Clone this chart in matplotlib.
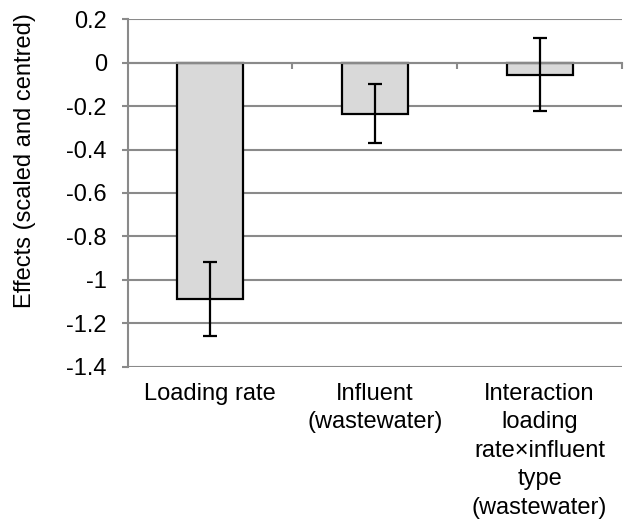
import matplotlib
matplotlib.use("Agg")
import matplotlib.pyplot as plt
from matplotlib.transforms import blended_transform_factory

plt.rcParams['font.family'] = ['Liberation Sans', 'DejaVu Sans']

categories = ["Loading rate", "Influent\n(wastewater)",
              "Interaction\nloading\nrate\u00d7influent\ntype\n(wastewater)"]
effects = [-1.09, -0.235, -0.055]
err_low = [-1.26, -0.37, -0.222]
err_high = [-0.92, -0.10, 0.113]
yticks = [0.2, 0, -0.2, -0.4, -0.6, -0.8, -1, -1.2, -1.4]
ytick_labels = ["0.2", "0", "-0.2", "-0.4", "-0.6", "-0.8", "-1", "-1.2", "-1.4"]

grid_col = '#8a8a8a'
fs = 17

fig = plt.figure(figsize=(6.34, 5.2), dpi=100)
ax = fig.add_axes([0.2014, 0.2948, 0.981 - 0.2014, 0.9629 - 0.2948])

x = list(range(len(categories)))
yerr = [[e - lo for e, lo in zip(effects, err_low)],
        [hi - e for e, hi in zip(effects, err_high)]]

ax.set_ylim(-1.4, 0.2)
ax.set_xlim(-0.5, len(categories) - 0.5)
ax.set_yticks(yticks)
ax.set_yticklabels(ytick_labels, fontsize=fs)
ax.yaxis.grid(True, color=grid_col, linewidth=1.5, zorder=0)
ax.set_axisbelow(True)

ax.bar(x, effects, width=0.4, color='#d9d9d9', edgecolor='black', linewidth=1.6, zorder=2)
ax.errorbar(x, effects, yerr=yerr, fmt='none', ecolor='black', elinewidth=1.6,
            capsize=5, capthick=1.6, zorder=3)

for s in ['top', 'right']:
    ax.spines[s].set_visible(False)
ax.spines['left'].set_color(grid_col)
ax.spines['left'].set_linewidth(1.5)
ax.spines['bottom'].set_position(('data', 0))
ax.spines['bottom'].set_color(grid_col)
ax.spines['bottom'].set_linewidth(1.5)

ax.set_xticks([i + 0.5 for i in x])
ax.set_xticklabels([])
ax.tick_params(axis='x', direction='out', length=4, width=1.5, color=grid_col)
ax.tick_params(axis='y', direction='out', length=4, width=1.5, color=grid_col, pad=11)

trans = blended_transform_factory(ax.transData, ax.transAxes)
for i, lab in zip(x, categories):
    ax.annotate(lab, xy=(i, 0), xycoords=trans, xytext=(0, -11.5),
                textcoords='offset points', ha='center', va='top',
                multialignment='center', fontsize=fs, linespacing=1.38)

fig.text(25 / 634, 1 - 161 / 520, "Effects (scaled and centred)", rotation=90,
         ha='center', va='center', fontsize=fs)

fig.savefig("out.png", dpi=100)
